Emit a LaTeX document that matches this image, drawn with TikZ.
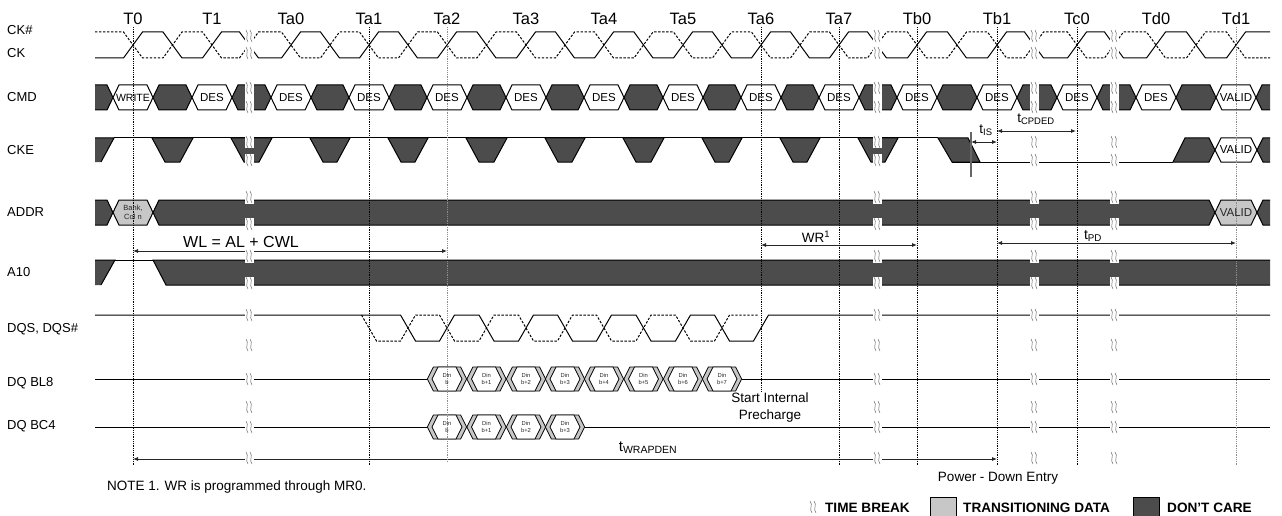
\documentclass[tikz,border=0pt]{standalone}
\usepackage{fontspec}
\setmainfont{Liberation Sans}
\usetikzlibrary{arrows.meta}
\definecolor{dcg}{gray}{0.30}
\definecolor{trg}{gray}{0.78}
\tikzset{
 sig/.style={line width=1pt, line join=miter},
 sigd/.style={line width=1pt, dash pattern=on 2.4pt off 1.6pt},
 dcbox/.style={fill=dcg, draw=black, line width=1pt},
 wbox/.style={fill=white, draw=black, line width=1pt},
 gbox/.style={fill=trg, draw=black, line width=1pt},
 tmark/.style={black, densely dotted, line width=0.8pt},
 tmarkg/.style={black!45, densely dotted, line width=0.8pt},
 dimarr/.style={{Latex[length=5pt,width=4pt]}-{Latex[length=5pt,width=4pt]}, line width=0.8pt, black!85},
 brkln/.style={black!60, line width=0.5pt},
 lab/.style={font=\fontsize{13}{15}\selectfont, anchor=west, inner sep=0pt},
 clk/.style={font=\fontsize{16.5}{18}\selectfont, inner sep=0pt},
 boxtxt/.style={font=\fontsize{11.5}{13}\selectfont, inner sep=0pt},
 dintxt/.style={font=\fontsize{5.8}{7}\selectfont, align=center, inner sep=0pt, text=black!85},
 smalltxt/.style={font=\fontsize{13.5}{17}\selectfont, inner sep=0pt, align=center},
 legtxt/.style={font=\bfseries\fontsize{13.6}{15}\selectfont, inner sep=0pt},
}
\newcommand\HX[5]{\path[#1] (#2,{(#4+#5)/2}) -- ({#2+6},#4) -- ({#3-6},#4) -- (#3,{(#4+#5)/2}) -- ({#3-6},#5) -- ({#2+6},#5) -- cycle;}
\newcommand\BRKSYM[2]{\foreach \dx in {-2,2} {\draw[brkln] ({#1+\dx-1},{#2-6}) .. controls ({#1+\dx+2.5},{#2-2}) and ({#1+\dx-2.5},{#2+2}) .. ({#1+\dx+1},{#2+6});}}
\newcommand\BRKMARK[2]{\fill[white] ({#1-4.5},{#2-6.5}) rectangle ({#1+4.5},{#2+6.5}); \BRKSYM{#1}{#2}}
\begin{document}
\begin{tikzpicture}[x=1pt,y=-1pt]
\useasboundingbox (0,0) rectangle (1282,516);

% ---- signal names
\node[lab] (lCKn) at (7,30) {CK\#};
\node[lab] (lCK) at (7,53) {CK};
\node[lab] (lCMD) at (7,97) {CMD};
\node[lab] (lCKE) at (7,150) {CKE};
\node[lab] (lADDR) at (7,212) {ADDR};
\node[lab] (lA10) at (7,272) {A10};
\node[lab] (lDQS) at (7,329) {DQS, DQS\#};
\node[lab] (lBL8) at (7,383) {DQ BL8};
\node[lab] (lBC4) at (7,426) {DQ BC4};

% ---- clock labels
\foreach \n/\x in {T0/133,T1/212,Ta0/291,Ta1/369,Ta2/447,Ta3/526,Ta4/604,Ta5/683,Ta6/761,Ta7/839,Tb0/917,Tb1/997,Tc0/1077,Td0/1156,Td1/1236}
  \node[clk] (lab\n) at (\x,19) {\n};

% ---- CK / CK#
\draw[sig] (95,58) foreach \r/\f in {133/172.5,212/249,291/330,369/408,447/486.5,526/565,604/643.5,683/722,761/800,839/877,917/957,997/1034,1077/1114,1156/1196} { -- ({\r-9.5},58) -- ({\r+9.5},32) -- ({\f-9.5},32) -- ({\f+9.5},58) } -- (1226.5,58) -- (1245.5,32) -- (1270,32);
\draw[sigd] (95,32) foreach \r/\f in {133/172.5,212/249,291/330,369/408,447/486.5,526/565,604/643.5,683/722,761/800,839/877,917/957,997/1034,1077/1114,1156/1196} { -- ({\r-9.5},32) -- ({\r+9.5},58) -- ({\f-9.5},58) -- ({\f+9.5},32) } -- (1226.5,32) -- (1245.5,58) -- (1270,58);

% ---- CMD
\foreach \a/\b in {133/212,212/291,291/369,369/447,447/526,526/604,604/683,683/761,761/839,839/917,917/997,997/1077,1077/1156,1156/1236}
  {\HX{dcbox}{\a+20}{\b-20}{85}{110}}
\fill[dcg] (95,85) -- (107,85) -- (113,97.5) -- (107,110) -- (95,110) -- cycle;
\draw[sig] (95,85) -- (107,85) -- (113,97.5) -- (107,110) -- (95,110);
\fill[dcg] (1270,85) -- (1262,85) -- (1256,97.5) -- (1262,110) -- (1270,110) -- cycle;
\draw[sig] (1270,85) -- (1262,85) -- (1256,97.5) -- (1262,110) -- (1270,110);
\foreach \c in {133,212,291,369,447,526,604,683,761,839,917,997,1077,1156,1236}
  {\HX{wbox}{\c-20}{\c+20}{85}{110}}

% ---- CKE
\fill[dcg] (95,138) -- (114,138) -- (101,162) -- (95,162) -- cycle;
\draw[sig] (95,138) -- (114,138) -- (101,162);
\draw[sig] (114,138) -- (938,138);
\foreach \a/\b in {133/212,212/291,291/369,369/447,447/526,526/604,604/683,683/761,761/839,839/917}
  {\path[dcbox] ({\a+19},138) -- ({\a+32},162) -- ({\b-32},162) -- ({\b-19},138) -- cycle;}
\path[dcbox] (938,138) -- (968,138) -- (980,162) -- (952,162) -- cycle;
\draw[sig] (952,162) -- (1173,162);
\path[dcbox] (1173,162) -- (1185,138) -- (1209,138) -- (1215,150) -- (1209,162) -- cycle;
\HX{wbox}{1215}{1257}{138}{162}
\fill[dcg] (1270,138) -- (1263,138) -- (1257,150) -- (1263,162) -- (1270,162) -- cycle;
\draw[sig] (1270,138) -- (1263,138) -- (1257,150) -- (1263,162) -- (1270,162);

% ---- ADDR
\fill[dcg] (95,200) -- (107,200) -- (113,212.5) -- (107,225) -- (95,225) -- cycle;
\draw[sig] (95,200) -- (107,200) -- (113,212.5) -- (107,225) -- (95,225);
\HX{dcbox}{153}{1215}{200}{225}
\HX{gbox}{113}{153}{200}{225}
\HX{gbox}{1215}{1257}{200}{225}
\fill[dcg] (1270,200) -- (1263,200) -- (1257,212.5) -- (1263,225) -- (1270,225) -- cycle;
\draw[sig] (1270,200) -- (1263,200) -- (1257,212.5) -- (1263,225) -- (1270,225);

% ---- A10
\fill[dcg] (95,260) -- (115,260) -- (101,285) -- (95,285) -- cycle;
\draw[sig] (95,260) -- (115,260) -- (101,285);
\draw[sig] (115,260) -- (153,260);
\fill[dcg] (153,260) -- (1270,260) -- (1270,285) -- (166,285) -- cycle;
\draw[sig] (1270,260) -- (153,260) -- (166,285) -- (1270,285);

% ---- DQS / DQS#
\draw[sig] (95,315) foreach \f/\r in {408/447,486.5/526,565/604,643.5/683,722/761} { -- ({\f-7.5},315) -- ({\f+7.5},341) -- ({\r-7.5},341) -- ({\r+7.5},315) } -- (1270,315);
\draw[sigd] (361.5,315) -- (376.5,341) foreach \r/\f in {408/447,486.5/526,565/604,643.5/683} { -- ({\r-7.5},341) -- ({\r+7.5},315) -- ({\f-7.5},315) -- ({\f+7.5},341) } -- (714.5,341) -- (729.5,315) -- (758,315);

% ---- DQ BL8 / BC4
\draw[sig] (95,379) -- (427.4,379);
\draw[sig] (741.6,379) -- (1270,379);
\draw[sig] (95,427) -- (427.4,427);
\draw[sig] (584.6,427) -- (1270,427);
\foreach \k/\c in {0/447,1/486.5,2/526,3/565,4/604,5/643.5,6/683,7/722} {
  \HX{gbox, line width=0.8pt}{\c-19.6}{\c+19.6}{367}{391}
  \HX{wbox, line width=0.8pt}{\c-15}{\c+15}{367}{391}
}
\foreach \k/\c in {0/447,1/486.5,2/526,3/565} {
  \HX{gbox, line width=0.8pt}{\c-19.6}{\c+19.6}{415}{439}
  \HX{wbox, line width=0.8pt}{\c-15}{\c+15}{415}{439}
}

% ---- timing arrows
\coordinate (wlA) at (133,251); \coordinate (wlB) at (447,251);
\draw[dimarr] (wlA) -- (wlB);
\coordinate (wrA) at (761,245); \coordinate (wrB) at (917,245);
\draw[dimarr] (wrA) -- (wrB);
\coordinate (pdA) at (997,243); \coordinate (pdB) at (1236,243);
\draw[dimarr] (pdA) -- (pdB);
\coordinate (isA) at (971,142); \coordinate (isB) at (997,142);
\draw[dimarr] (isA) -- (isB);
\coordinate (cpA) at (997,131); \coordinate (cpB) at (1076,131);
\draw[dimarr] (cpA) -- (cpB);
\coordinate (wdA) at (133,459); \coordinate (wdB) at (997,459);
\draw[dimarr] (wdA) -- (wdB);
\coordinate (isT) at (971,132); \coordinate (isL) at (971,177);
\draw[black!60, line width=1.2pt] (isT) -- (isL);

% ---- time breaks
\foreach \bx in {249,877,1034,1114} {
  \fill[white] ({\bx-4.5},28) rectangle ({\bx+4.5},62);
  \fill[white] ({\bx-4.5},83) rectangle ({\bx+4.5},112);
  \foreach \by in {36,53,88,107,142,160,197,224,256,283,315,345,379,407,427,458} {\BRKMARK{\bx}{\by}}
}

% ---- vertical reference lines
\foreach \x in {133,369,839,917,997,1077} \draw[tmark] (\x,27) -- (\x,465);
\draw[tmark] (761,27) -- (761,392);
\draw[tmarkg] (447,27) -- (447,462);
\draw[tmarkg] (1236,27) -- (1236,465);

% ---- texts inside boxes
\node[boxtxt, font=\fontsize{10.5}{12}\selectfont] (cmdW) at (133,97.5) {WRITE};
\foreach \c/\t in {212/DES,291/DES,369/DES,447/DES,526/DES,604/DES,683/DES,761/DES,839/DES,917/DES,997/DES,1077/DES,1156/DES,1236/VALID}
  \node[boxtxt] (cmd\c) at (\c,97.5) {\t};
\node[boxtxt] (ckeV) at (1236,150) {VALID};
\node[boxtxt, text=black!85] (addrV) at (1236,212.5) {VALID};
\node[font=\fontsize{7.5}{9}\selectfont, align=center, inner sep=0pt, text=black!85] (bank) at (133,212.5) {Bank,\\Col n};
\foreach \k/\c in {0/447,1/486.5,2/526,3/565,4/604,5/643.5,6/683,7/722}
  \node[dintxt] (bl\k) at (\c,379) {Din\\b\ifnum\k>0 +\k\fi};
\foreach \k/\c in {0/447,1/486.5,2/526,3/565}
  \node[dintxt] (bc\k) at (\c,427) {Din\\b\ifnum\k>0 +\k\fi};

% ---- annotation labels
\node[font=\fontsize{16}{18}\selectfont, inner sep=0pt] (wlT) at (241,242) {WL = AL + CWL};
\node[font=\fontsize{13.5}{15}\selectfont, inner sep=0pt] (wrT) at (816,237) {WR\textsuperscript{1}};
\node[font=\fontsize{14}{16}\selectfont, inner sep=0pt] (pdT) at (1093,236) {t\textsubscript{PD}};
\node[font=\fontsize{13.5}{15}\selectfont, inner sep=0pt] (isTx) at (986,130) {t\textsubscript{IS}};
\node[font=\fontsize{13.5}{15}\selectfont, inner sep=0pt] (cpT) at (1036,119) {t\textsubscript{CPDED}};
\node[font=\fontsize{15}{17}\selectfont, inner sep=0pt] (wdT) at (648,448) {t\textsubscript{WRAPDEN}};
\node[smalltxt] (sip) at (770,407.5) {Start Internal\\Precharge};
\node[smalltxt] (pde) at (998,478) {Power - Down Entry};
\node[smalltxt, anchor=west] (note) at (107,487) {NOTE 1. WR is programmed through MR0.};

% ---- legend
\BRKSYM{813}{507}
\node[legtxt, anchor=east] (lgBrk) at (910,507.5) {TIME BREAK};
\draw[gbox] (930,497) rectangle (956,518);
\node[legtxt, anchor=west] (lgTr) at (963,507.5) {TRANSITIONING DATA};
\draw[dcbox] (1133,497) rectangle (1159,518);
\node[legtxt, anchor=west] (lgDc) at (1167,507.5) {DON'T CARE};
\end{tikzpicture}
\end{document}
